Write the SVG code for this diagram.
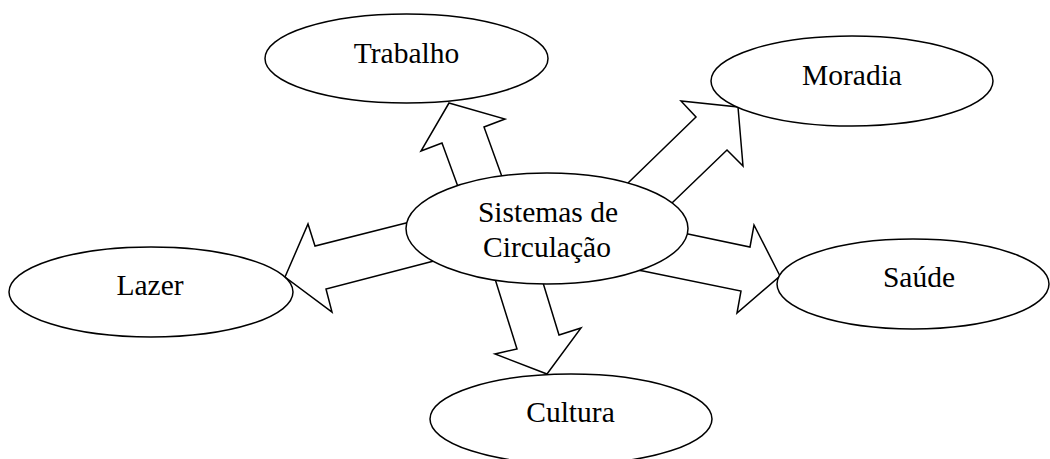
<svg xmlns="http://www.w3.org/2000/svg" width="1050" height="459" viewBox="0 0 1050 459">
<style>
.arrow{fill:#fff;stroke:#000;stroke-width:1.5;stroke-linejoin:miter}
.node ellipse{fill:#fff;stroke:#000;stroke-width:1.5}
.node text{font-family:"Liberation Serif","Times New Roman",serif;font-size:29.5px;fill:#000;text-anchor:middle}
</style>
<rect width="1050" height="459" fill="#fff"/>
<g id="connectors">
<polygon class="arrow" points="449,103 505,119 484,127 501,174 508,193 464,203 457,184 442,143 421,151"/>
<polygon class="arrow" points="738,107 743,166 727,150 673,202 663,212 619,192 629,182 696,117 681,101"/>
<polygon class="arrow" points="285,277 308,224 315,246 406,223 420,219.5 445,258 430,262 326,289 332,312"/>
<polygon class="arrow" points="780,276 754,225 750,247 688,234 675,231.5 630,269 643,271 741,291 737,313"/>
<polygon class="arrow" points="547,374 581,328 559,335 544,286 541,276 492,270 496,282 517,349 495,354"/>
</g>
<g id="node-trabalho" class="node">
<ellipse cx="406.5" cy="58.5" rx="141.5" ry="44.5"/>
<text x="406.5" y="63">Trabalho</text>
</g>
<g id="node-moradia" class="node">
<ellipse cx="852" cy="81" rx="141" ry="45"/>
<text x="852" y="85">Moradia</text>
</g>
<g id="node-lazer" class="node">
<ellipse cx="151" cy="292" rx="142" ry="45"/>
<text x="150" y="295">Lazer</text>
</g>
<g id="node-saude" class="node">
<ellipse cx="913" cy="284" rx="136" ry="45"/>
<text x="919" y="287">Saúde</text>
</g>
<g id="node-cultura" class="node">
<ellipse cx="571" cy="419" rx="141" ry="45"/>
<text x="570.5" y="422">Cultura</text>
</g>
<g id="node-sistemas" class="node">
<ellipse cx="547" cy="228.5" rx="141" ry="55.5"/>
<text x="548" y="222">Sistemas de</text>
<text x="547" y="257">Circulação</text>
</g>
</svg>
